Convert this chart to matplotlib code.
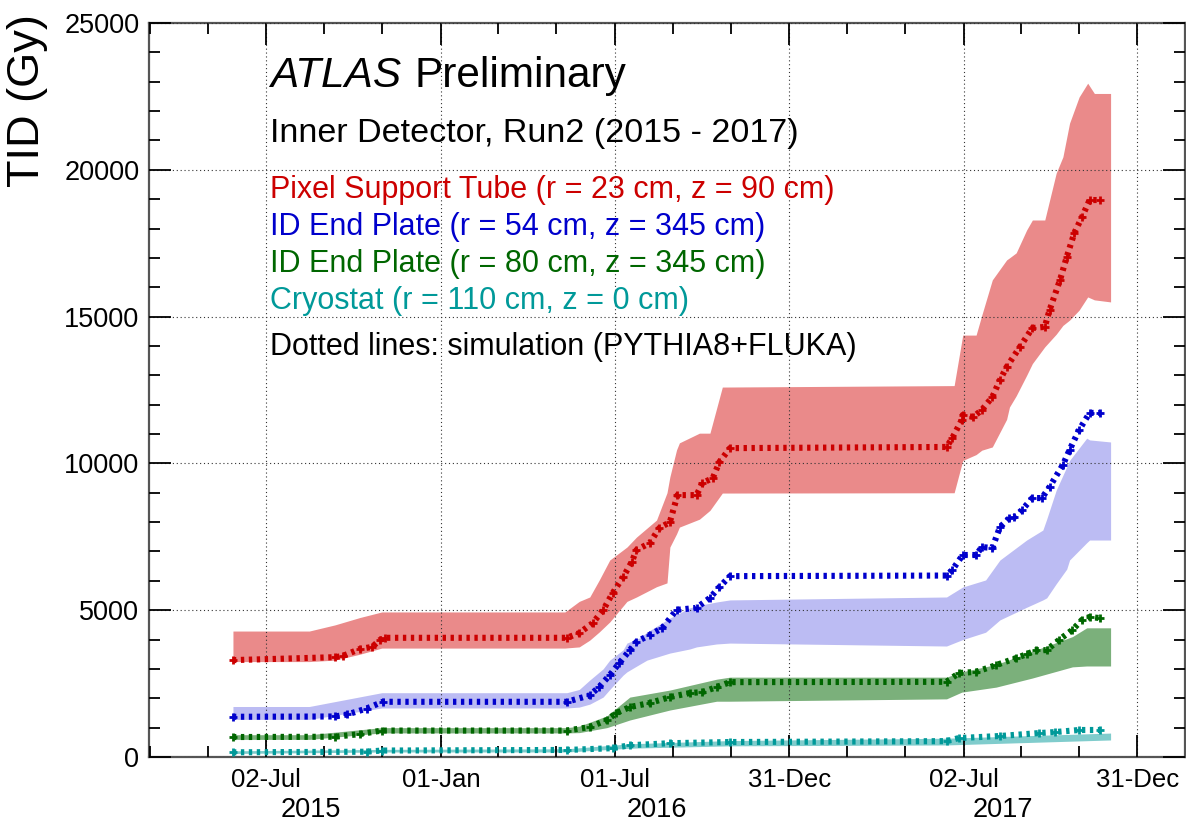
import numpy as np
import pandas as pd
import matplotlib
matplotlib.use('Agg')
import matplotlib.pyplot as plt
import matplotlib.transforms as mtransforms

plt.rcParams['font.family'] = ['Liberation Sans', 'DejaVu Sans']

W, H = 1186, 822

# simulation curves (dotted lines)
PST_SIM_DATES = ['2015-05-28', '2015-09-12', '2015-09-20', '2015-10-08', '2015-10-21', '2015-10-29',
                 '2015-11-03', '2016-05-12', '2016-05-25', '2016-06-08', '2016-06-19', '2016-06-29',
                 '2016-07-10', '2016-07-19', '2016-07-24', '2016-08-07', '2016-08-17', '2016-08-28',
                 '2016-09-05', '2016-09-25', '2016-10-01', '2016-10-12', '2016-10-19', '2016-10-30',
                 '2017-06-14', '2017-06-20', '2017-06-30', '2017-07-01', '2017-07-12', '2017-07-21',
                 '2017-08-01', '2017-08-09', '2017-08-16', '2017-08-30', '2017-09-12', '2017-09-25',
                 '2017-09-30', '2017-10-11', '2017-10-18', '2017-10-26', '2017-11-03', '2017-11-11',
                 '2017-11-22']
PST_SIM = [3300, 3400, 3440, 3680, 3750, 3985,
           4060, 4060, 4220, 4560, 5000, 5580,
           6130, 6640, 7050, 7290, 7800, 8000,
           8920, 8920, 9330, 9500, 10050, 10520,
           10560, 10860, 11480, 11650, 11580, 11820,
           12260, 12840, 13280, 13970, 14610, 14650,
           15220, 16250, 17030, 17850, 18390, 18970,
           18970]

IDEP54_SIM_DATES = ['2015-05-28', '2015-09-12', '2015-09-25', '2015-10-15', '2015-11-01', '2016-05-12',
                    '2016-06-05', '2016-06-15', '2016-06-26', '2016-07-06', '2016-07-17', '2016-07-24',
                    '2016-08-07', '2016-08-20', '2016-09-04', '2016-09-25', '2016-10-09', '2016-10-19',
                    '2016-10-30', '2017-06-14', '2017-06-20', '2017-07-01', '2017-07-15', '2017-07-21',
                    '2017-08-01', '2017-08-09', '2017-08-19', '2017-08-24', '2017-09-01', '2017-09-12',
                    '2017-09-22', '2017-09-30', '2017-10-14', '2017-10-21', '2017-10-31', '2017-11-11',
                    '2017-11-22']
IDEP54_SIM = [1370, 1380, 1450, 1650, 1880, 1880,
              2100, 2390, 2790, 3200, 3640, 3920,
              4160, 4390, 5010, 5080, 5420, 5790,
              6160, 6180, 6370, 6880, 6880, 7150,
              7120, 7830, 8140, 8170, 8410, 8820,
              8820, 9200, 9950, 10460, 11140, 11720,
              11720]

IDEP80_SIM_DATES = ['2015-05-28', '2015-09-12', '2015-10-08', '2015-10-31', '2016-05-12', '2016-06-05',
                    '2016-06-23', '2016-07-03', '2016-07-17', '2016-08-07', '2016-08-28', '2016-09-18',
                    '2016-10-01', '2016-10-16', '2016-10-30', '2017-06-14', '2017-06-27', '2017-07-15',
                    '2017-08-05', '2017-08-26', '2017-09-06', '2017-09-16', '2017-09-27', '2017-10-10',
                    '2017-10-24', '2017-11-03', '2017-11-11', '2017-11-22']
IDEP80_SIM = [680, 690, 780, 900, 900, 1020,
              1260, 1500, 1700, 1840, 2040, 2180,
              2210, 2380, 2550, 2560, 2860, 2900,
              3130, 3370, 3500, 3640, 3640, 3990,
              4330, 4670, 4770, 4730]

CRYO_SIM_DATES = ['2015-05-28', '2015-10-15', '2015-10-31', '2016-05-12', '2016-06-29', '2016-07-17',
                  '2016-08-28', '2016-10-30', '2017-06-14', '2017-06-27', '2017-08-09', '2017-09-19',
                  '2017-10-06', '2017-10-31', '2017-11-22']
CRYO_SIM = [160, 180, 220, 240, 300, 400,
            470, 510, 540, 645, 715, 815,
            850, 920, 920]

# measured dose bands (low / high edge)
PST_BAND_DATES = ['2015-05-28', '2015-08-16', '2015-09-12', '2015-10-08', '2015-10-31', '2016-05-10',
                  '2016-05-25', '2016-06-05', '2016-06-15', '2016-06-26', '2016-07-14', '2016-07-24',
                  '2016-08-14', '2016-08-25', '2016-08-28', '2016-09-04', '2016-09-07', '2016-09-28',
                  '2016-10-09', '2016-10-22', '2017-06-22', '2017-07-01', '2017-07-15', '2017-07-21',
                  '2017-08-01', '2017-08-16', '2017-08-19', '2017-08-26', '2017-09-06', '2017-09-12',
                  '2017-09-25', '2017-10-07', '2017-10-14', '2017-10-21', '2017-10-31', '2017-11-09',
                  '2017-11-16', '2017-12-03']
PST_LOW = [3250, 3250, 3300, 3500, 3710, 3710,
           3750, 3980, 4260, 4600, 5300, 5450,
           5800, 5930, 7150, 7600, 7830, 8100,
           8400, 8990, 9000, 10100, 10300, 10450,
           10560, 11500, 11920, 12300, 13000, 13400,
           13970, 14400, 14700, 14880, 15220, 15670,
           15570, 15500]
PST_HIGH = [4290, 4290, 4500, 4750, 4940, 4940,
            5300, 5450, 6030, 6710, 7150, 7490,
            8070, 9000, 9540, 10460, 10700, 11030,
            11030, 12600, 12650, 14370, 14370, 15050,
            16250, 16930, 17000, 17170, 17950, 18290,
            18290, 19890, 20440, 21590, 22480, 22950,
            22600, 22600]

IDEP54_BAND_DATES = ['2015-05-28', '2015-08-16', '2015-10-31', '2016-05-12', '2016-05-25', '2016-06-05',
                     '2016-06-19', '2016-06-26', '2016-07-10', '2016-07-14', '2016-07-27', '2016-08-04',
                     '2016-08-28', '2016-09-18', '2016-09-25', '2016-10-16', '2016-10-30', '2017-06-14',
                     '2017-07-01', '2017-07-25', '2017-08-09', '2017-09-06', '2017-09-23', '2017-09-27',
                     '2017-10-07', '2017-10-18', '2017-10-21', '2017-11-08', '2017-11-11', '2017-12-03']
IDEP54_LOW = [1280, 1280, 1670, 1670, 1700, 1800,
              2040, 2300, 2790, 2900, 3150, 3300,
              3540, 3680, 3750, 3850, 3880, 3780,
              4000, 4250, 4670, 5100, 5350, 5420,
              5900, 6400, 6710, 7300, 7390, 7390]
IDEP54_HIGH = [1720, 1720, 2190, 2190, 2300, 2620,
               3000, 3300, 3650, 3880, 4050, 4250,
               4730, 5080, 5150, 5280, 5350, 5450,
               5790, 6030, 6710, 7390, 7730, 8100,
               9090, 9880, 10100, 10860, 10800, 10730]

IDEP80_BAND_DATES = ['2015-05-28', '2015-08-16', '2015-10-31', '2016-05-12', '2016-05-25', '2016-06-23',
                     '2016-07-17', '2016-08-28', '2016-10-16', '2016-10-30', '2017-06-14', '2017-06-30',
                     '2017-08-05', '2017-09-12', '2017-10-24', '2017-11-08', '2017-12-03']
IDEP80_LOW = [600, 600, 820, 820, 830, 1000,
              1260, 1600, 1900, 1900, 1980, 2210,
              2380, 2690, 3070, 3100, 3100]
IDEP80_HIGH = [760, 760, 1000, 1000, 1050, 1400,
               2040, 2280, 2650, 2720, 2720, 2900,
               3150, 3600, 4100, 4400, 4400]

CRYO_BAND_DATES = ['2015-05-28', '2015-10-31', '2016-05-12', '2016-07-17', '2016-10-30', '2017-06-14',
                   '2017-12-03']
CRYO_LOW = [120, 170, 170, 300, 380, 410, 580]
CRYO_HIGH = [210, 260, 280, 450, 560, 640, 815]

MAJOR_TICKS = ['2015-07-02', '2016-01-01', '2016-07-01', '2016-12-31', '2017-07-02', '2017-12-31']
MAJOR_LABELS = ['02-Jul', '01-Jan', '01-Jul', '31-Dec', '02-Jul', '31-Dec']
MINOR_TICKS = ['2015-03-02', '2015-05-02', '2015-08-31', '2015-10-31', '2016-03-01', '2016-05-01',
               '2016-08-31', '2016-10-31', '2017-03-02', '2017-05-02', '2017-08-31', '2017-10-31']
YEARS = ['2015', '2016', '2017']
YEAR_POS = ['2015-08-18', '2016-08-14', '2017-08-12']

SERIES = [
    # label, line colour, band colour, sim dates, sim, band dates, low, high
    ('Pixel Support Tube (r = 23 cm, z = 90 cm)', '#cc0000', '#ea8a8a',
     PST_SIM_DATES, PST_SIM, PST_BAND_DATES, PST_LOW, PST_HIGH),
    ('ID End Plate (r = 54 cm, z = 345 cm)', '#0000cc', '#bcbcf3',
     IDEP54_SIM_DATES, IDEP54_SIM, IDEP54_BAND_DATES, IDEP54_LOW, IDEP54_HIGH),
    ('ID End Plate (r = 80 cm, z = 345 cm)', '#006600', '#7bb07b',
     IDEP80_SIM_DATES, IDEP80_SIM, IDEP80_BAND_DATES, IDEP80_LOW, IDEP80_HIGH),
    ('Cryostat (r = 110 cm, z = 0 cm)', '#009999', '#80cccc',
     CRYO_SIM_DATES, CRYO_SIM, CRYO_BAND_DATES, CRYO_LOW, CRYO_HIGH),
]


def px(x, y):
    '''pixel position -> figure fraction'''
    return x / W, 1 - y / H


fig = plt.figure(figsize=(W / 100, H / 100), dpi=100)
ax = fig.add_axes([149 / W, (H - 757) / H, (W - 1 - 149) / W, (757 - 23) / H])

# bands first, then simulation lines on top
for label, lc, bc, sd, sv, bd, lo, hi in SERIES:
    ax.fill_between(pd.to_datetime(bd), lo, hi, color=bc, lw=0, zorder=1)
for label, lc, bc, sd, sv, bd, lo, hi in SERIES:
    ax.plot(pd.to_datetime(sd), sv, color=lc, lw=4.4, linestyle=(0, (0.55, 0.75)),
            dash_capstyle='butt', zorder=3)
    ax.plot(pd.to_datetime(sd), sv, color=lc, lw=0, marker='+', ms=5.5, mew=2, zorder=3)

ax.set_xlim(pd.Timestamp('2015-03-01'), pd.Timestamp('2018-02-19'))
ax.set_ylim(0, 25000)

ax.set_xticks(pd.to_datetime(MAJOR_TICKS))
ax.set_xticklabels(MAJOR_LABELS)
ax.set_xticks(pd.to_datetime(MINOR_TICKS), minor=True)
ax.set_yticks(np.arange(0, 25001, 5000))
ax.set_yticks(np.arange(0, 25001, 1000), minor=True)

ax.tick_params(which='both', direction='in', top=True, right=True, colors='black', width=1.3)
ax.tick_params(which='major', length=16)
ax.tick_params(which='minor', length=8)
ax.tick_params(axis='x', which='major', labelsize=18.5, pad=8)
ax.tick_params(axis='y', which='major', labelsize=19.5, pad=7)

for s in ax.spines.values():
    s.set_color('#555555')
    s.set_linewidth(1.6)

ax.set_axisbelow(False)
ax.grid(True, which='major', color='#333333', lw=0.8, linestyle=(0, (1, 2.5)))

# year labels under the date ticks
trans = mtransforms.blended_transform_factory(ax.transData, fig.transFigure)
for yr, d in zip(YEARS, YEAR_POS):
    ax.text(pd.Timestamp(d), 1 - 810 / H, yr, transform=trans, ha='center', va='center',
            fontsize=19.5, clip_on=False)

fig.text(*px(28, 14), 'TID (Gy)', rotation=90, ha='center', va='top', fontsize=32.5)

fig.text(*px(270, 87), 'ATLAS', fontstyle='italic', fontsize=30.5, ha='left', va='baseline')
fig.text(*px(414, 87), 'Preliminary', fontsize=30.5, ha='left', va='baseline')
fig.text(*px(270, 142), 'Inner Detector, Run2 (2015 - 2017)', fontsize=24.5, ha='left', va='baseline')
for i, (label, lc, *_rest) in enumerate(SERIES):
    fig.text(*px(270, 198 + 37 * i), label, color=lc, fontsize=22, ha='left', va='baseline')
fig.text(*px(270, 355), 'Dotted lines: simulation (PYTHIA8+FLUKA)', fontsize=22,
         ha='left', va='baseline')

fig.savefig('out.png', dpi=100)
